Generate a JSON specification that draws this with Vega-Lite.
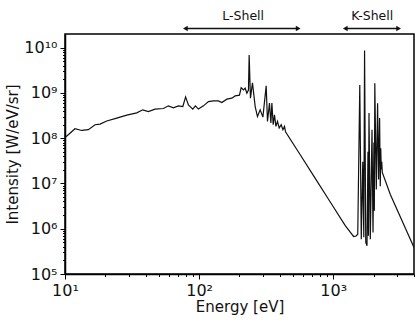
{
  "$schema": "https://vega.github.io/schema/vega-lite/v6.json",
  "autosize": {"type": "none"},
  "width": 349,
  "height": 240,
  "padding": {"left": 65, "top": 34, "right": 1, "bottom": 49},
  "background": "white",
  "config": {
    "font": "DejaVu Sans",
    "view": {"stroke": "black", "strokeWidth": 1.5},
    "axis": {"grid": false, "domainColor": "black", "tickColor": "black", "labelColor": "#111", "titleColor": "#111", "labelFont": "DejaVu Sans", "titleFont": "DejaVu Sans", "titleFontWeight": "normal"}
  },
  "datasets": {
    "spectrum": [
      {"E": 10.0, "I": 1.03e8},
      {"E": 10.58, "I": 1.19e8},
      {"E": 11.87, "I": 1.62e8},
      {"E": 13.32, "I": 1.48e8},
      {"E": 14.93, "I": 1.54e8},
      {"E": 16.75, "I": 1.98e8},
      {"E": 18.25, "I": 2.05e8},
      {"E": 20.48, "I": 2.39e8},
      {"E": 24.31, "I": 2.78e8},
      {"E": 28.87, "I": 3.24e8},
      {"E": 34.28, "I": 3.63e8},
      {"E": 38.0, "I": 4.23e8},
      {"E": 41.83, "I": 3.88e8},
      {"E": 46.95, "I": 4.39e8},
      {"E": 54.15, "I": 4.52e8},
      {"E": 59.0, "I": 5.18e8},
      {"E": 64.3, "I": 4.68e8},
      {"E": 70.0, "I": 5.18e8},
      {"E": 75.6, "I": 5.0e8},
      {"E": 79.3, "I": 8.17e8},
      {"E": 83.2, "I": 5.45e8},
      {"E": 89.7, "I": 4.39e8},
      {"E": 93.8, "I": 5.18e8},
      {"E": 98.8, "I": 4.39e8},
      {"E": 107.7, "I": 5.18e8},
      {"E": 117.3, "I": 6.44e8},
      {"E": 127.8, "I": 6.67e8},
      {"E": 139.3, "I": 6.67e8},
      {"E": 147.7, "I": 6.12e8},
      {"E": 161.0, "I": 7.28e8},
      {"E": 175.4, "I": 7.66e8},
      {"E": 185.6, "I": 8.59e8},
      {"E": 199.8, "I": 8.9e8},
      {"E": 205.8, "I": 1.31e9},
      {"E": 214.1, "I": 1.16e9},
      {"E": 220.4, "I": 1.27e9},
      {"E": 227.0, "I": 9.84e8},
      {"E": 233.3, "I": 1.16e9},
      {"E": 236.1, "I": 6.84e9},
      {"E": 241.4, "I": 7.66e8},
      {"E": 249.9, "I": 1.66e9},
      {"E": 261.8, "I": 5.0e8},
      {"E": 272.3, "I": 3.01e8},
      {"E": 285.2, "I": 4.23e8},
      {"E": 298.8, "I": 2.92e8},
      {"E": 316.2, "I": 1.43e9},
      {"E": 323.4, "I": 2.34e8},
      {"E": 334.6, "I": 5.94e8},
      {"E": 342.8, "I": 2.16e8},
      {"E": 348.7, "I": 5.94e8},
      {"E": 356.6, "I": 1.98e8},
      {"E": 364.7, "I": 3.28e8},
      {"E": 373.6, "I": 1.82e8},
      {"E": 384.0, "I": 2.34e8},
      {"E": 395.4, "I": 1.68e8},
      {"E": 409.2, "I": 1.98e8},
      {"E": 421.4, "I": 1.54e8},
      {"E": 433.1, "I": 1.82e8},
      {"E": 440.6, "I": 1.39e8},
      {"E": 567.3, "I": 4.3e7},
      {"E": 734, "I": 1.29e7},
      {"E": 949.8, "I": 3.9e6},
      {"E": 1229, "I": 1.17e6},
      {"E": 1339, "I": 8.37e5},
      {"E": 1418, "I": 6.74e5},
      {"E": 1480, "I": 6.9e5},
      {"E": 1523, "I": 7.57e5},
      {"E": 1577, "I": 1.5e9},
      {"E": 1618, "I": 5.88e5},
      {"E": 1660, "I": 3.0e7},
      {"E": 1690, "I": 6.5e5},
      {"E": 1712, "I": 8.59e9},
      {"E": 1748, "I": 4.98e5},
      {"E": 1785, "I": 4.19e5},
      {"E": 1815, "I": 5.0e7},
      {"E": 1830, "I": 7.0e5},
      {"E": 1847, "I": 3.58e8},
      {"E": 1889, "I": 5.88e5},
      {"E": 1945, "I": 1.54e8},
      {"E": 1979, "I": 8.24e5},
      {"E": 2010, "I": 8.0e7},
      {"E": 2025, "I": 2.5e6},
      {"E": 2041, "I": 1.63e9},
      {"E": 2094, "I": 7.38e6},
      {"E": 2141, "I": 5.94e8},
      {"E": 2178, "I": 1.22e7},
      {"E": 2216, "I": 2.78e8},
      {"E": 2242, "I": 8.73e6},
      {"E": 2260, "I": 6.0e7},
      {"E": 2281, "I": 2.03e7},
      {"E": 2300, "I": 3.0e7},
      {"E": 2321, "I": 1.75e7},
      {"E": 2664, "I": 5.73e6},
      {"E": 4000, "I": 3.86e5}
    ],
    "arrows": [
      {"shell": "L-Shell", "x1": 79, "x2": 548, "xt": 213, "ya": 2.64e10, "yt": 4.9e10},
      {"shell": "K-Shell", "x1": 1229, "x2": 3071, "xt": 1954, "ya": 2.64e10, "yt": 4.9e10}
    ]
  },
  "layer": [
    {
      "data": {"name": "spectrum"},
      "mark": {"type": "line", "color": "#111", "strokeWidth": 1.2, "clip": true},
      "encoding": {
        "x": {
          "field": "E", "type": "quantitative",
          "scale": {"type": "log", "domain": [10, 4000], "nice": false},
          "axis": {
            "title": "Energy [eV]", "titleFontSize": 15, "labelFontSize": 16,
            "values": [10,20,30,40,50,60,70,80,90,100,200,300,400,500,600,700,800,900,1000,2000,3000,4000],
            "labelExpr": "abs(log(datum.value)/LN10 - round(log(datum.value)/LN10)) < 0.001 ? '10' + ['⁰','¹','²','³','⁴','⁵','⁶','⁷','⁸','⁹'][round(log(datum.value)/LN10)] : ''",
            "tickSize": {"condition": {"test": "abs(log(datum.value)/LN10 - round(log(datum.value)/LN10)) < 0.001", "value": 5}, "value": 2.5},
            "labelPadding": 3, "titlePadding": 1, "domainWidth": 1.5, "tickWidth": 1, "labelFlush": false
          }
        },
        "y": {
          "field": "I", "type": "quantitative",
          "scale": {"type": "log", "domain": [100000, 20000000000], "nice": false},
          "axis": {
            "title": "Intensity [W/eV/sr]", "titleFontSize": 15, "labelFontSize": 16,
            "values": [100000,200000,300000,400000,500000,600000,700000,800000,900000,1000000,2000000,3000000,4000000,5000000,6000000,7000000,8000000,9000000,10000000,20000000,30000000,40000000,50000000,60000000,70000000,80000000,90000000,100000000,200000000,300000000,400000000,500000000,600000000,700000000,800000000,900000000,1000000000,2000000000,3000000000,4000000000,5000000000,6000000000,7000000000,8000000000,9000000000,10000000000],
            "labelExpr": "abs(log(datum.value)/LN10 - round(log(datum.value)/LN10)) < 0.001 ? (round(log(datum.value)/LN10) == 10 ? '10¹⁰' : '10' + ['⁰','¹','²','³','⁴','⁵','⁶','⁷','⁸','⁹'][round(log(datum.value)/LN10)]) : ''",
            "tickSize": {"condition": {"test": "abs(log(datum.value)/LN10 - round(log(datum.value)/LN10)) < 0.001", "value": 5}, "value": 2.5},
            "labelPadding": 3, "titlePadding": 3, "domainWidth": 1.5, "tickWidth": 1
          }
        }
      }
    },
    {
      "data": {"name": "arrows"},
      "mark": {"type": "rule", "color": "#111", "strokeWidth": 1.5},
      "encoding": {
        "x": {"field": "x1", "type": "quantitative"},
        "x2": {"field": "x2"},
        "y": {"field": "ya", "type": "quantitative"}
      }
    },
    {
      "data": {"name": "arrows"},
      "mark": {"type": "point", "shape": "triangle-left", "filled": true, "color": "#111", "size": 30, "opacity": 1},
      "encoding": {
        "x": {"field": "x1", "type": "quantitative"},
        "y": {"field": "ya", "type": "quantitative"}
      }
    },
    {
      "data": {"name": "arrows"},
      "mark": {"type": "point", "shape": "triangle-right", "filled": true, "color": "#111", "size": 30, "opacity": 1},
      "encoding": {
        "x": {"field": "x2", "type": "quantitative"},
        "y": {"field": "ya", "type": "quantitative"}
      }
    },
    {
      "data": {"name": "arrows"},
      "mark": {"type": "text", "fontSize": 12.5, "color": "#111", "baseline": "middle", "align": "center"},
      "encoding": {
        "x": {"field": "xt", "type": "quantitative"},
        "y": {"field": "yt", "type": "quantitative"},
        "text": {"field": "shell"}
      }
    }
  ]
}
